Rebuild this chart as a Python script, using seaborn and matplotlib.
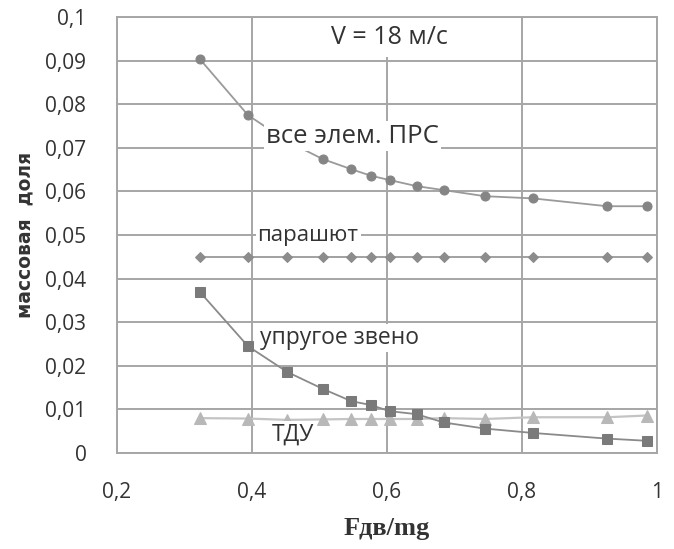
import matplotlib
matplotlib.use("Agg")
import matplotlib.pyplot as plt
import seaborn as sns
import pandas as pd

# ---- data ----
x_vals = [0.323, 0.394, 0.452, 0.505, 0.547, 0.576, 0.604, 0.644, 0.684, 0.745, 0.816, 0.926, 0.985]
total = [0.0903, 0.0775, 0.0715, 0.0674, 0.0651, 0.0636, 0.0626, 0.0612, 0.0603, 0.0589, 0.0584, 0.0566, 0.0566]
parachute = [0.045] * 13
elastic = [0.0369, 0.0245, 0.0186, 0.0147, 0.0119, 0.0110, 0.0096, 0.0089, 0.0070, 0.0056, 0.0046, 0.0033, 0.0028]
tdu = [0.0080, 0.0079, 0.0076, 0.0077, 0.0078, 0.0078, 0.0078, 0.0078, 0.0080, 0.0078, 0.0082, 0.0082, 0.0086]

x_ticks = [0.2, 0.4, 0.6, 0.8, 1.0]
x_ticklabels = ["0,2", "0,4", "0,6", "0,8", "1"]
y_ticks = [0, 0.01, 0.02, 0.03, 0.04, 0.05, 0.06, 0.07, 0.08, 0.09, 0.1]
y_ticklabels = ["0", "0,01", "0,02", "0,03", "0,04", "0,05", "0,06", "0,07", "0,08", "0,09", "0,1"]

title_text = "V = 18 м/с"
lbl_total = "все элем. ПРС"
lbl_para = "парашют"
lbl_elastic = "упругое звено"
lbl_tdu = "ТДУ"
xlabel = "Fдв/mg"
ylabel = "массовая  доля"

sns.set_style("white")
plt.rcParams['font.family'] = ['Open Sans', 'DejaVu Sans']

fig = plt.figure(figsize=(6.74, 5.49), dpi=100)
ax = fig.add_axes([117/674, 1-453/549, (657-117)/674, (453-17)/549])

df = pd.DataFrame({"x": x_vals, "total": total, "para": parachute, "el": elastic, "tdu": tdu})

sns.lineplot(data=df, x="x", y="tdu", ax=ax, color="#c4c4c4", lw=1.6, marker="^",
             markersize=8, markerfacecolor="#b8b8b8", markeredgecolor="#b8b8b8", zorder=3)
sns.lineplot(data=df, x="x", y="para", ax=ax, color="#9a9a9a", lw=1.3, marker="D",
             markersize=5, markerfacecolor="#8c8c8c", markeredgecolor="#8c8c8c", zorder=3)
sns.lineplot(data=df, x="x", y="total", ax=ax, color="#9a9a9a", lw=1.3, marker="o",
             markersize=6.5, markerfacecolor="#858585", markeredgecolor="#858585", zorder=4)
sns.lineplot(data=df, x="x", y="el", ax=ax, color="#8a8a8a", lw=1.3, marker="s",
             markersize=7, markerfacecolor="#7a7a7a", markeredgecolor="#7a7a7a", zorder=4)

ax.set_xlim(0.2, 1.0)
ax.set_ylim(0, 0.1)
ax.set_xticks(x_ticks)
ax.set_xticklabels(x_ticklabels)
ax.set_yticks(y_ticks)
ax.set_yticklabels(y_ticklabels)
ax.tick_params(axis="both", length=0, labelsize=15, colors="#333333")
ax.tick_params(axis="y", pad=22)
ax.tick_params(axis="x", pad=21)
ax.grid(True, color="#a6a6a6", lw=1.4, zorder=0)
for s in ax.spines.values():
    s.set_color("#a6a6a6")
    s.set_linewidth(1.4)
ax.set_axisbelow(True)

box = dict(facecolor="white", edgecolor="none", pad=1.5)
ax.text(0.603, 0.0952, title_text, fontsize=18, color="#333333", va="center", ha="center",
        bbox=dict(facecolor="white", edgecolor="none", pad=5), zorder=5)
ax.text(0.549, 0.0727, lbl_total, fontsize=18.5, color="#333333", va="center", ha="center", bbox=box, zorder=5)
ax.text(0.483, 0.0498, lbl_para, fontsize=16, color="#333333", va="center", ha="center", bbox=box, zorder=5)
ax.text(0.530, 0.0264, lbl_elastic, fontsize=16.5, color="#333333", va="center", ha="center", bbox=box, zorder=5)
ax.text(0.460, 0.0041, lbl_tdu, fontsize=16.5, color="#333333", va="center", ha="center", bbox=box, zorder=5)

ax.set_xlabel(xlabel, fontsize=19, fontweight="bold", family=["Liberation Serif", "DejaVu Serif"],
              color="#333333", labelpad=10)
ax.set_ylabel(ylabel, fontsize=13.5, fontweight="bold", family=["DejaVu Sans"],
              color="#333333", labelpad=8)

fig.savefig("out.png", dpi=100, facecolor="white")
